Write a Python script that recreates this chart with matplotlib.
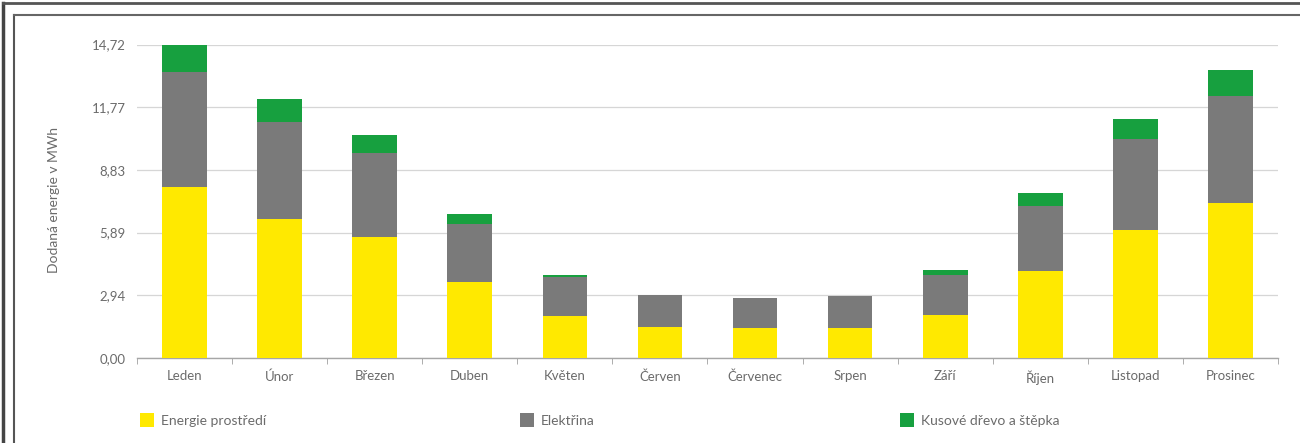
import matplotlib
matplotlib.use("Agg")
import matplotlib.pyplot as plt
from matplotlib.lines import Line2D
from matplotlib.patches import Patch
import numpy as np

plt.rcParams['font.family'] = ['Lato', 'DejaVu Sans']

months = ["Leden", "Únor", "Březen", "Duben", "Květen", "Červen", "Červenec",
          "Srpen", "Září", "Říjen", "Listopad", "Prosinec"]
energie_prostredi = [8.03, 6.55, 5.68, 3.57, 1.97, 1.46, 1.43, 1.41, 2.04, 4.07, 6.03, 7.28]
elektrina = [5.40, 4.54, 3.95, 2.74, 1.83, 1.48, 1.39, 1.50, 1.84, 3.06, 4.27, 5.03]
drevo = [1.28, 1.09, 0.83, 0.47, 0.12, 0.00, 0.00, 0.00, 0.27, 0.62, 0.91, 1.22]
yticks = [0.00, 2.94, 5.89, 8.83, 11.77, 14.72]
ytick_labels = ["0,00", "2,94", "5,89", "8,83", "11,77", "14,72"]
series_names = ["Energie prostředí", "Elektřina", "Kusové dřevo a štěpka"]
colors = ["#FFE900", "#7A7A7A", "#17A03F"]
text_color = "#6b6b6b"

W, H = 1300, 443
fig = plt.figure(figsize=(W / 100, H / 100), dpi=100)
ax = fig.add_axes([137 / W, 1 - 358 / H, (1278 - 137) / W, (358 - 44.5) / H])

x = np.arange(len(months))
bw = 0.47
e = np.array(energie_prostredi)
el = np.array(elektrina)
d = np.array(drevo)
ax.bar(x, e, bw, color=colors[0], zorder=3)
ax.bar(x, el, bw, bottom=e, color=colors[1], zorder=3)
ax.bar(x, d, bw, bottom=e + el, color=colors[2], zorder=3)

ax.set_xlim(-0.5, len(months) - 0.5)
ax.set_ylim(0, 14.72)
ax.set_yticks(yticks)
ax.set_yticklabels(ytick_labels)
ax.set_xticks(x)
ax.set_xticklabels(months)
ax.set_xticks(np.arange(-0.5, len(months)), minor=True)
ax.tick_params(axis='x', which='major', length=0, pad=9, labelsize=9.5, labelcolor=text_color)
ax.tick_params(axis='x', which='minor', length=4, color="#a0a0a0", direction='out')
ax.tick_params(axis='y', length=0, pad=8, labelsize=9.5, labelcolor=text_color)

for s in ["top", "right", "left"]:
    ax.spines[s].set_visible(False)
ax.spines["bottom"].set_color("#a6a6a6")
ax.spines["bottom"].set_linewidth(1.0)
ax.yaxis.grid(True, color="#d6d6d6", linewidth=0.9, zorder=0)
ax.set_axisbelow(True)

fig.text(54 / W, 1 - 200 / H, "Dodaná energie v MWh", rotation=90, ha='center', va='center',
         fontsize=10, color=text_color)

# legend entries
legend_x = [133, 513, 893]
for name, col, lx in zip(series_names, colors, legend_x):
    fig.legend(handles=[Patch(facecolor=col, edgecolor='none')], labels=[name],
               loc='center left', bbox_to_anchor=(lx / W, 1 - 420 / H),
               frameon=False, fontsize=10, labelcolor=text_color,
               handlelength=1.0, handleheight=1.2, handletextpad=0.5, borderpad=0)

# frame lines (scan borders)
fig.add_artist(Line2D([3 / W, 3 / W], [0, 1 - 3 / H], transform=fig.transFigure, color="#444444", lw=2.5))
fig.add_artist(Line2D([3 / W, 1], [1 - 3 / H, 1 - 3 / H], transform=fig.transFigure, color="#555555", lw=2.0))
fig.add_artist(Line2D([14 / W, 14 / W], [0, 1 - 15 / H], transform=fig.transFigure, color="#555555", lw=1.5))
fig.add_artist(Line2D([14 / W, 1], [1 - 15 / H, 1 - 15 / H], transform=fig.transFigure, color="#666666", lw=1.5))

fig.savefig("out.png", dpi=100)
